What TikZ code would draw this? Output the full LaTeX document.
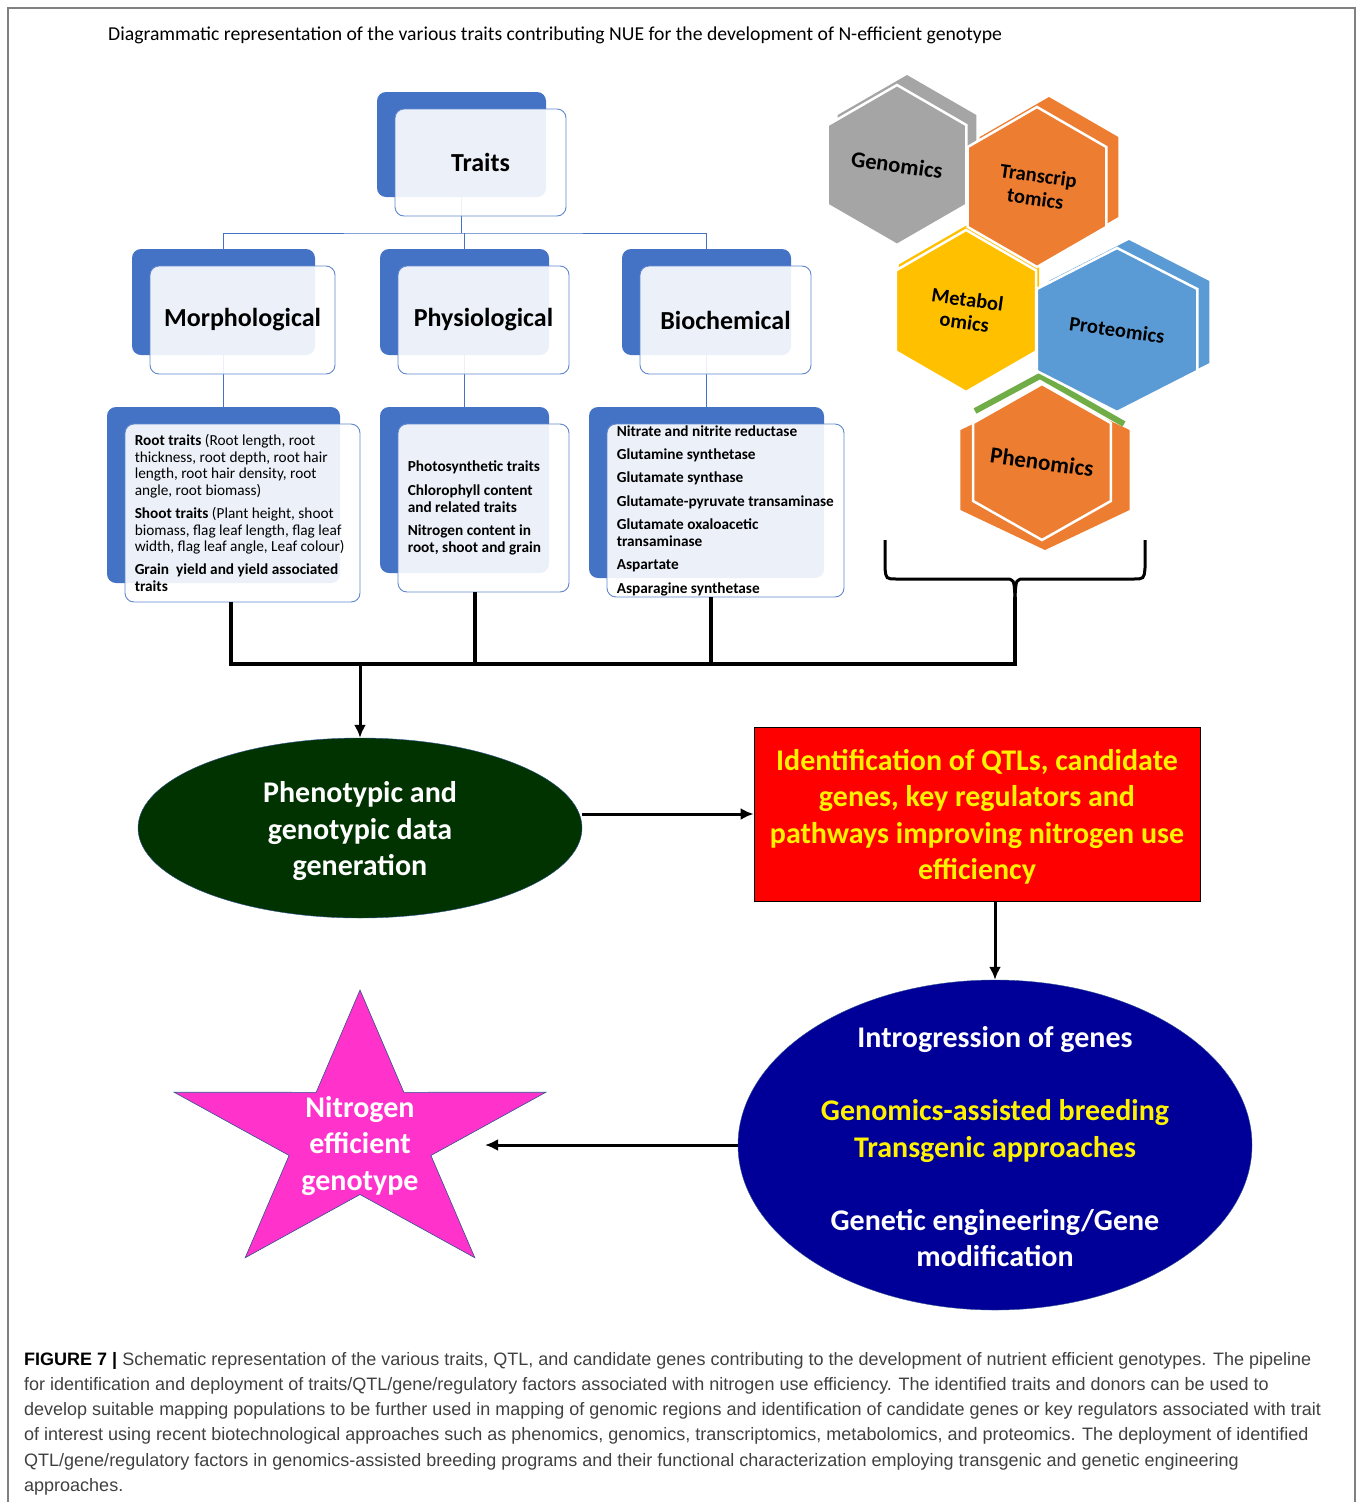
\documentclass[tikz,border=0pt]{standalone}
\usepackage{fontspec}
\setmainfont{Carlito}
\newfontfamily\capfont{Liberation Sans}
\usetikzlibrary{shapes.geometric, calc, arrows.meta}

\definecolor{boxblue}{HTML}{4472C4}
\definecolor{edgeblue}{HTML}{2F528F}
\definecolor{gengray}{HTML}{A5A5A5}
\definecolor{traorange}{HTML}{ED7D31}
\definecolor{metyellow}{HTML}{FFC000}
\definecolor{problue}{HTML}{5B9BD5}
\definecolor{phegreen}{HTML}{70AD47}
\definecolor{darkgreen}{HTML}{003300}
\definecolor{navyblue}{HTML}{000099}
\definecolor{starpink}{HTML}{FF33CC}

\begin{document}
\begin{tikzpicture}[x=1pt, y=-1pt,
    backbox/.style={fill=boxblue, rounded corners=9pt, inner sep=0pt},
    frontbox/.style={fill=white, fill opacity=0.9, text opacity=1, draw=boxblue!85, line width=0.9pt, rounded corners=9pt, inner sep=0pt},
    head/.style={font=\bfseries\fontsize{26}{30}\selectfont},
    detail/.style={font=\fontsize{15.3}{16.6}\selectfont, align=left, inner sep=0pt, anchor=west},
    tree/.style={boxblue, line width=1pt},
    bus/.style={line width=3.2pt},
    flow/.style={line width=3pt, -{Latex[length=13pt, width=12pt]}},
    bigtext/.style={font=\bfseries\fontsize{30}{36.5}\selectfont, align=center},
    hexlabel/.style={align=center, rotate=-8, inner sep=0pt}]

    \useasboundingbox (0,0) rectangle (1358,1502);
    \draw[gray, line width=1.2pt] (8,1502) -- (8,8) -- (1355,8) -- (1355,1502);

    \node[anchor=west, inner sep=0pt, font=\fontsize{19.7}{23}\selectfont] (title) at (108,35)
        {Diagrammatic representation of the various traits contributing NUE for the development of N-efficient genotype};

    % trait tree
    \foreach \nm/\cx/\cy/\w/\h in {traits/461.5/144.5/169/105, morph/223.5/302/183/106, phys/464.5/302/169/106, bio/706.5/302/169/106,
                                   morph3/223.5/495/233/176, phys3/464.5/490/169/166, bio3/706.5/492.5/235/171}
        \node[backbox, minimum width=\w, minimum height=\h] (\nm-b) at (\cx,\cy) {};

    \coordinate (hub) at (461.5,233);
    \draw[tree] (traits-b.south) -- (hub);
    \draw[tree] (morph-b.north) |- (hub) -| (bio-b.north);
    \draw[tree] (hub -| phys-b.north) -- (phys-b.north);
    \foreach \nm in {morph, phys, bio}
        \draw[tree] (\nm-b.south) -- (\nm3-b.north);

    \foreach \nm/\cx/\cy/\w/\h/\lbl in {traits/461.5/144.5/169/105/Traits, morph/223.5/302/183/106/Morphological,
                                        phys/464.5/302/169/106/Physiological, bio/706.5/302/169/106/Biochemical}
        \node[frontbox, head, minimum width=\w+2, minimum height=\h+2] (\nm) at (\cx+19,\cy+18) {\lbl};

    \foreach \nm/\cx/\cy/\w/\h in {morph3/223.5/495/233/176, phys3/464.5/490/169/166, bio3/706.5/492.5/235/171}
        \node[frontbox, minimum width=\w+2, minimum height=\h+2] (\nm) at (\cx+19,\cy+18) {};

    \node[detail] (morphtxt) at ([xshift=10pt]morph3.west) {\textbf{Root traits} (Root length, root\\
        thickness, root depth, root hair\\ length, root hair density, root\\ angle, root biomass)\\[6.5pt]
        \textbf{Shoot traits} (Plant height, shoot\\ biomass, flag leaf length, flag leaf\\
        width, flag leaf angle, Leaf colour)\\[6.5pt]
        \textbf{Grain\ \ yield and yield associated}\\ \textbf{traits}};
    \node[detail, font=\bfseries\fontsize{15.3}{16.6}\selectfont] (phystxt) at ([xshift=10pt]phys3.west)
        {Photosynthetic traits\\[7pt] Chlorophyll content\\ and related traits\\[7pt]
        Nitrogen content in\\ root, shoot and grain};
    \node[detail, font=\bfseries\fontsize{15.3}{16.6}\selectfont] (biotxt) at ([xshift=10pt]bio3.west)
        {Nitrate and nitrite reductase\\[6.8pt] Glutamine synthetase\\[6.8pt] Glutamate synthase\\[6.8pt]
        Glutamate-pyruvate transaminase\\[6.8pt] Glutamate oxaloacetic\\ transaminase\\[6.8pt]
        Aspartate\\[6.8pt] Asparagine synthetase};

    % omics hexagons
    \foreach \cx/\cy/\r/\sx/\dx/\dy/\col in {897/165/80/1/10/-10/gengray, 1037/187/80/1/12/-10/traorange,
                                             966/311/81/1/3/-6/metyellow, 1117/330/82/1.13/12/-8/problue}
        \fill[\col, shift={(\cx+\dx,\cy+\dy)}, xscale=\sx]
            (30:\r) -- (90:\r) -- (150:\r) -- (210:\r) -- (270:\r) -- (330:\r) -- cycle;
    \fill[traorange, shift={(1045,470)}, xscale=1.22]
        (30:80) -- (90:80) -- (150:80) -- (210:80) -- (270:80) -- (330:80) -- cycle;
    \draw[phegreen, line width=6pt] (975,411) -- (1040,376) -- (1124,424);

    \foreach \nm/\cx/\cy/\r/\sx/\col/\fs/\lbl in {genomics/897/165/80/1/gengray/22.5/Genomics,
                                                  transcriptomics/1037/187/80/1/traorange/20.5/{Transcrip\\tomics},
                                                  metabolomics/966/311/81/1/metyellow/20.5/{Metabol\\omics},
                                                  proteomics/1117/330/82/1.13/problue/20.5/Proteomics,
                                                  phenomics/1042/462/78/1.02/traorange/23/Phenomics}{
        \filldraw[fill=\col, draw=white, line width=2.5pt, shift={(\cx,\cy)}, xscale=\sx]
            (30:\r) -- (90:\r) -- (150:\r) -- (210:\r) -- (270:\r) -- (330:\r) -- cycle;
        \node[hexlabel, font=\bfseries\fontsize{\fs}{23}\selectfont] (\nm) at (\cx,\cy) {\lbl};
    }

    % brace under the omics
    \coordinate (brace) at (1015,597);
    \draw[line width=3pt] (885,540) -- (885,568) .. controls (886,579) .. (897,579) -- (1005,579)
        .. controls (1014,579) .. (brace);
    \draw[line width=3pt] (1145,540) -- (1145,568) .. controls (1144,579) .. (1133,579) -- (1025,579)
        .. controls (1016,579) .. (brace);

    % pipeline
    \node[ellipse, fill=darkgreen, draw=edgeblue, minimum width=444, minimum height=180, inner sep=0pt] (gen) at (360,828) {};
    \node[bigtext, text=white] (gentxt) at (360,831.5) {Phenotypic and\\ genotypic data\\ generation};
    \node[rectangle, fill=red, draw=black, line width=0.8pt, minimum width=446, minimum height=174] (qtl) at (977,814) {};
    \node[bigtext, text=yellow] (qtltxt) at (977,817)
        {Identification of QTLs, candidate\\ genes, key regulators and\\ pathways improving nitrogen use\\ efficiency};
    \node[ellipse, fill=navyblue, draw=edgeblue, minimum width=514, minimum height=330, inner sep=0pt] (breed) at (995,1145) {};
    \node[bigtext, text=white] (breedtxt) at (995,1147)
        {Introgression of genes\\[36.5pt] \textcolor{yellow}{Genomics-assisted breeding}\\
         \textcolor{yellow}{Transgenic approaches}\\[36.5pt] Genetic engineering/Gene\\ modification};

    \fill[starpink, draw=edgeblue, line width=0.6pt, shift={(360,1138)}, xscale=1.32]
        (270:148) -- (306:56.5) -- (342:148) -- (18:56.5) -- (54:148) -- (90:56.5)
        -- (126:148) -- (162:56.5) -- (198:148) -- (234:56.5) -- cycle;
    \node[bigtext, text=white] (nfg) at (360,1146)
        {Nitrogen\\ efficient\\ genotype};

    \coordinate (bm) at (231,664);
    \coordinate (bp) at (475,664);
    \coordinate (bb) at (711,664);
    \coordinate (bo) at (1015,664);
    \coordinate (starR) at (485,1141);
    \draw[bus] (morph3.south -| bm) -- (bm) -- (bo) -- (brace);
    \draw[bus] (phys3.south -| bp) -- (bp);
    \draw[bus] (bio3.south -| bb) -- (bb);

    \draw[flow] (gen.north |- bm) -- (gen.north);
    \draw[flow] (gen.east |- qtl.west) -- (qtl.west);
    \draw[flow] (breed.north |- qtl.south) -- (breed.north);
    \draw[flow] (breed.west) -- (breed.west -| starR);

    \node[anchor=north west, align=left, inner sep=0pt, text=black!75,
          font=\capfont\fontsize{18}{25.2}\selectfont] (caption) at (24,1352)
        {\textcolor{black}{\textbf{FIGURE 7 |}} Schematic representation of the various traits, QTL, and candidate genes contributing to the development of nutrient efficient genotypes. The pipeline\\
         for identification and deployment of traits/QTL/gene/regulatory factors associated with nitrogen use efficiency. The identified traits and donors can be used to\\
         develop suitable mapping populations to be further used in mapping of genomic regions and identification of candidate genes or key regulators associated with trait\\
         of interest using recent biotechnological approaches such as phenomics, genomics, transcriptomics, metabolomics, and proteomics. The deployment of identified\\
         QTL/gene/regulatory factors in genomics-assisted breeding programs and their functional characterization employing transgenic and genetic engineering\\
         approaches.};
\end{tikzpicture}
\end{document}
